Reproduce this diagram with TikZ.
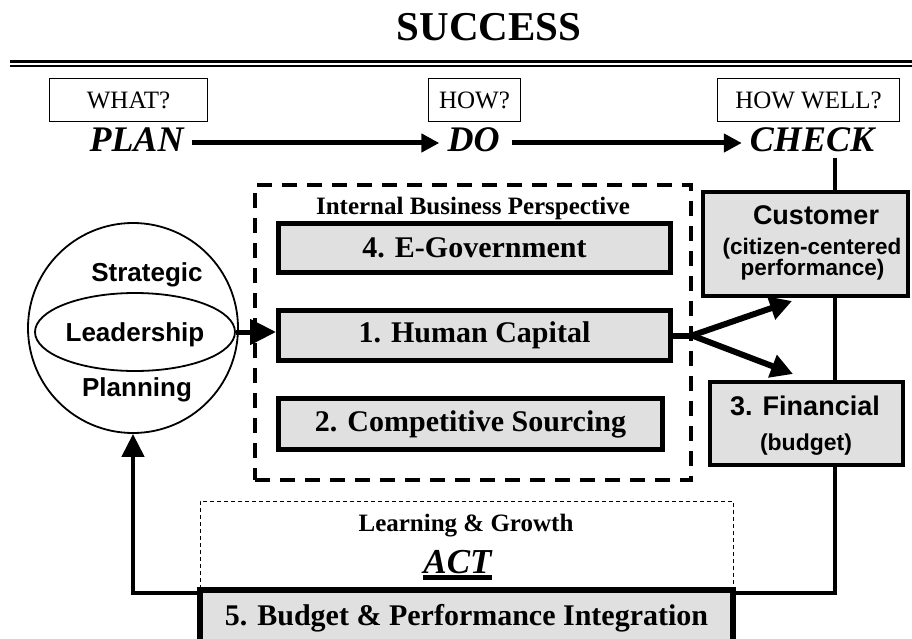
\documentclass[tikz,border=0pt]{standalone}
\usepackage{fontspec}
\setmainfont{Liberation Serif}
\newfontfamily\arialf{Liberation Sans}
\usetikzlibrary{arrows.meta,calc,shapes.geometric}
\definecolor{boxgray}{RGB}{224,224,224}
\pgfdeclarelayer{bg}
\pgfsetlayers{bg,main}
\newcommand\fs[1]{\fontsize{#1}{#1}\selectfont}
\newcommand\thickul[1]{\setbox0\hbox{#1}\rlap{\rule[-6.5pt]{\wd0}{5pt}}\box0}
\begin{document}
\begin{tikzpicture}[x=1pt,y=-1pt,
  qbox/.style={draw,line width=1.2pt,inner sep=0pt,minimum height=43pt,font=\fs{25}},
  pdc/.style={inner xsep=8pt,inner ysep=0pt,text height=24pt,text depth=6pt,anchor=base,font=\fs{36}\bfseries\itshape},
  flowarr/.style={line width=5pt,-{Triangle[length=18pt,width=18pt]}},
  gbox/.style={draw,line width=5pt,fill=boxgray,inner sep=0pt,font=\fs{30}\bfseries},
  sbox/.style={draw,line width=4pt,fill=boxgray,inner sep=0pt},
  atext/.style={font=\arialf\bfseries\fs{26}},
  ctext/.style={font=\arialf\bfseries\fs{22.5}},
  fat/.style={line width=6pt},
  fatarr/.style={line width=6pt,-{Triangle[length=22pt,width=23pt]}},
  loopline/.style={line width=4.5pt,-{Triangle[length=23pt,width=22pt]}},
]
\clip (0,0) rectangle (912,639);

% title
\node[font=\fs{41}\bfseries] (succ) at (489,27.5) {SUCCESS};
\draw[line width=3.5pt] (10,61.5) -- (912,61.5);
\draw[line width=2pt] (10,66.5) -- (912,66.5);

% question boxes
\node[qbox,minimum width=158pt] (what) at (128.5,100) {WHAT?};
\node[qbox,minimum width=92pt] (how) at (474.5,100) {HOW?};
\node[qbox,minimum width=182pt] (howwell) at (808.5,100) {HOW WELL?};

% plan do check
\node[pdc] (plan) at (136.5,152) {PLAN};
\node[pdc] (do) at (473.5,152) {DO};
\node[pdc] (check) at (812,152) {CHECK};
\draw[flowarr] (plan.east) -- (do.west);
\draw[flowarr] ([xshift=4pt]do.east) -- (check.west);

% strategic leadership planning
\node[draw,circle,line width=1.8pt,minimum size=210pt,inner sep=0pt] (sphere) at (133,328) {};
\node[draw,ellipse,line width=1.8pt,minimum width=200pt,minimum height=78pt,inner sep=0pt,text depth=0pt,atext] (lead) at (135,332) {Leadership};
\node[atext] (strat) at (147,275) {Strategic};
\node[atext] (plann) at (137,390) {Planning};

% internal business perspective
\node[draw,line width=4pt,dash pattern=on 15pt off 10pt,minimum width=436pt,minimum height=295pt,inner sep=0pt] (ibp) at (473,332.5) {};
\node[font=\fs{25}\bfseries] (ibptitle) at (473,208) {Internal Business Perspective};
\node[gbox,minimum width=392pt,minimum height=49pt] (egov) at (474.5,248) {4. E-Government};
\node[gbox,minimum width=392pt,minimum height=50pt] (hc) at (474.5,335.5) {1. Human Capital};
\node[gbox,minimum width=384pt,minimum height=51pt] (cs) at (470.5,424) {2. Competitive Sourcing};

\draw[line width=5pt,-{Triangle[length=26pt,width=25pt]}] (lead.east) -- (lead.east -| hc.west);

% customer / financial
\node[sbox,minimum width=205pt,minimum height=104pt] (cust) at (805.5,244) {};
\node[atext,font=\arialf\bfseries\fs{27}] (custa) at (816,215) {Customer};
\node[ctext] (custb) at (812,249) {(citizen-centered};
\node[ctext] (custc) at (812.5,270) {performance)};
\node[sbox,minimum width=193pt,minimum height=83pt] (fin) at (806.5,423.5) {};
\node[atext,font=\arialf\bfseries\fs{27}] (fina) at (805,406) {3. Financial};
\node[ctext,font=\arialf\bfseries\fs{23}] (finb) at (806,445) {(budget)};

\draw[fat] (hc.east) -- ++(19,0) coordinate (split);
\draw[fatarr] (split) -- ($(cust.south west)+(91,3)$);
\draw[fatarr] (split) -- ($(fin.north west)+(85,-6)$);

% learning & growth / act
\node[draw,line width=1pt,dash pattern=on 4pt off 3pt,minimum width=533pt,minimum height=89pt,inner sep=0pt] (lg) at (466.5,545.5) {};
\node[font=\fs{25}\bfseries] (lgt) at (466,526) {Learning \& Growth};
\node[font=\fs{35}\bfseries\itshape,anchor=base] (act) at (457.5,573) {\thickul{ACT}};

\node[draw,line width=5.5pt,fill=boxgray,minimum width=533pt,minimum height=56pt,inner sep=0pt,font=\fs{30}\bfseries] (bpi) at (466.5,618) {5. Budget \& Performance Integration};

% feedback loop
\coordinate (ctop) at (835,158);
\coordinate (cbot) at (835,593);
\coordinate (lbot) at (133,593);
\begin{pgfonlayer}{bg}
\draw[loopline] (ctop) -- (cbot) -- (lbot) -- (sphere.south);
\end{pgfonlayer}
\end{tikzpicture}
\end{document}
